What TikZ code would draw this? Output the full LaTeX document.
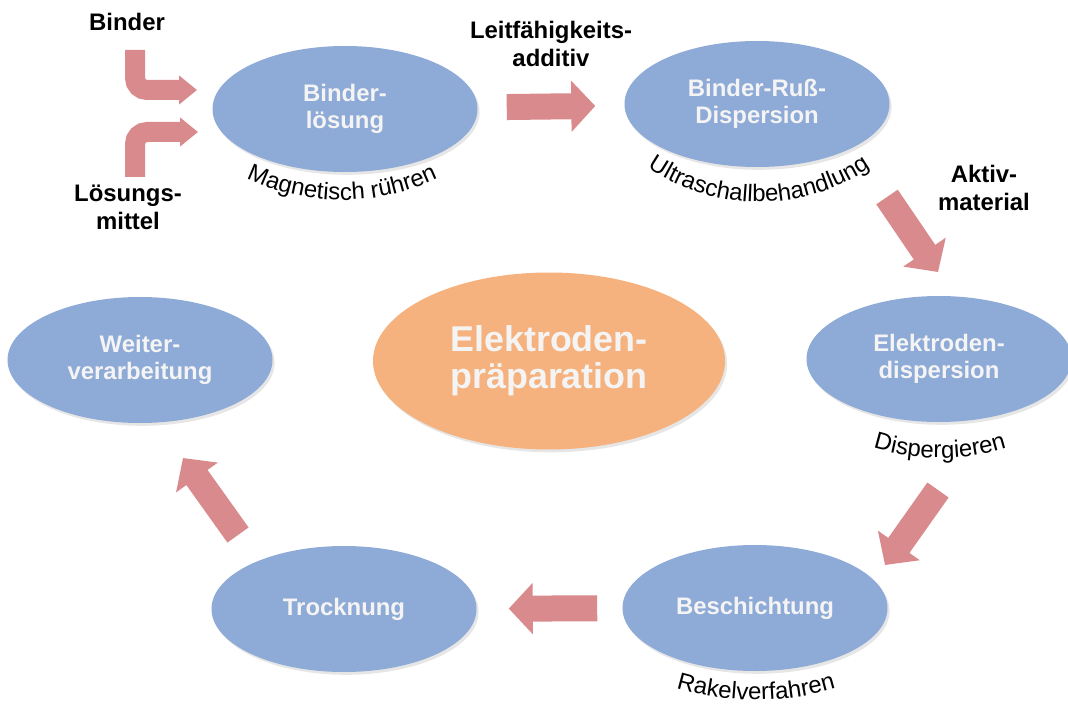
\documentclass[tikz,border=0pt]{standalone}
\usepackage{fontspec}
\setmainfont{Liberation Sans}
\usetikzlibrary{arrows.meta,shapes.geometric,shadows,decorations.text}

\definecolor{stepblue}{HTML}{8EAAD6}
\definecolor{coreorange}{HTML}{F5B27E}
\definecolor{flowred}{HTML}{D98A8C}
\definecolor{steptext}{HTML}{F4F4F4}

\newcommand{\labelfont}{\fontsize{17}{20.5}\selectfont\bfseries}
\newcommand{\curvfont}{\fontsize{17}{20}\selectfont}

\tikzset{
  stepnode/.style={ellipse, fill=stepblue, minimum width=6.625cm, minimum height=3.15cm,
    inner sep=0pt, align=center, text=steptext, font=\fontsize{17}{19.5}\selectfont\bfseries,
    drop shadow={opacity=0.2, shadow xshift=1.5pt, shadow yshift=-2pt}},
  corenode/.style={stepnode, fill=coreorange, minimum width=8.8cm, minimum height=4.425cm,
    font=\fontsize{25.5}{26.5}\selectfont\bfseries},
  inputlabel/.style={align=center, font=\labelfont},
  flowarrow/.style={draw=flowred, line width=0.65cm, -{Triangle[width=1.25cm, length=0.6cm]}},
  feedarrow/.style={draw=flowred, line width=0.5cm, rounded corners=0.3cm,
    -{Triangle[width=0.7cm, length=0.45cm]}},
  curvetext/.style={decorate, decoration={text along path, text align=center}}
}

\begin{document}
\begin{tikzpicture}
\useasboundingbox (0,0) rectangle (26.7,17.625);
% process steps
\node[stepnode] (loesung) at (8.625,14.9) {Binder-\\lösung};
\node[stepnode] (russ) at (18.925,15.025) {Binder-Ruß-\\Dispersion};
\node[stepnode] (edisp) at (23.475,8.65) {Elektroden-\\dispersion};
\node[stepnode] (besch) at (18.875,2.425) {Beschichtung};
\node[stepnode] (trock) at (8.6,2.4) {Trocknung};
\node[stepnode] (weiter) at (3.5,8.625) {Weiter-\\verarbeitung};
\node[corenode] (praep) at (13.725,8.6) {Elektroden-\\präparation};
% added materials
\node[inputlabel] (binder) at (3.175,17.075) {Binder};
\node[inputlabel] (solvent) at (3.2,12.44) {Lösungs-\\mittel};
\node[inputlabel] (additive) at (13.775,16.525) {Leitfähigkeits-\\additiv};
\node[inputlabel] (active) at (24.6,12.925) {Aktiv-\\material};
% arrow ends
\coordinate (binderfrom) at (3.375,16.375);
\coordinate (binderto) at (4.925,15.375);
\coordinate (solventfrom) at (3.375,13.2);
\coordinate (solventto) at (4.95,14.325);
\coordinate (aktivfrom) at (22.175,12.7);
\coordinate (aktivto) at (23.45,10.825);
\coordinate (dispfrom) at (23.45,5.375);
\coordinate (dispto) at (22.125,3.5);
\coordinate (dryfrom) at (5.95,4.25);
\coordinate (dryto) at (4.575,6.175);
\draw[feedarrow] (binderfrom) |- (binderto);
\draw[feedarrow] (solventfrom) |- (solventto);
\draw[flowarrow, shorten <=0.725cm, shorten >=0.725cm] (loesung) -- (russ);
\draw[flowarrow] (aktivfrom) -- (aktivto);
\draw[flowarrow] (dispfrom) -- (dispto);
\draw[flowarrow, shorten <=0.625cm, shorten >=0.8cm] (besch) -- (trock);
\draw[flowarrow] (dryfrom) -- (dryto);
% methods under the steps
\path[curvetext, decoration={text={|\curvfont|Magnetisch rühren}}]
  ([shift={(230:5.6)}]8.55,18.225) arc[start angle=230, end angle=310, radius=5.6];
\path[curvetext, decoration={text={|\curvfont|Ultraschallbehandlung}}]
  ([shift={(225:4.9)}]18.975,17.475) arc[start angle=225, end angle=315, radius=4.9];
\path[curvetext, decoration={text={|\curvfont|Dispergieren}}]
  ([shift={(245:5.6)}]23.5,11.775) arc[start angle=245, end angle=295, radius=5.6];
\path[curvetext, decoration={text={|\curvfont|Rakelverfahren}}]
  ([shift={(250:7)}]18.9,7.125) arc[start angle=250, end angle=290, radius=7];
\end{tikzpicture}
\end{document}
